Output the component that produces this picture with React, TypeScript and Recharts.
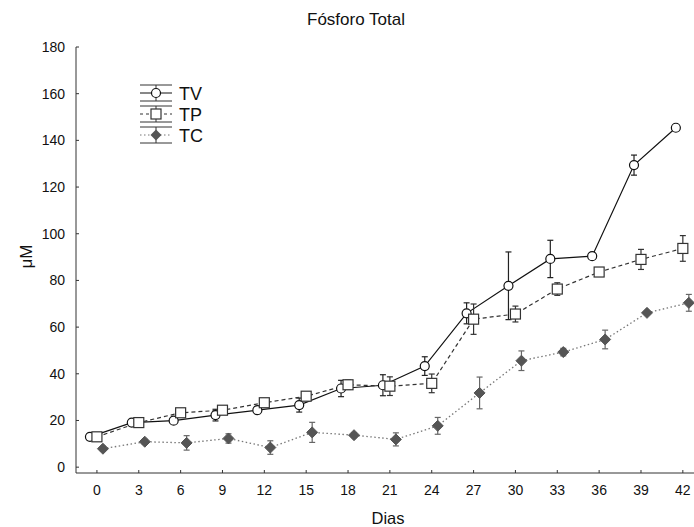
import React from 'react';
import { LineChart, Line, XAxis, YAxis, ErrorBar } from 'recharts';

const days = [0, 3, 6, 9, 12, 15, 18, 21, 24, 27, 30, 33, 36, 39, 42];
const dayTicks = [0, 3, 6, 9, 12, 15, 18, 21, 24, 27, 30, 33, 36, 39, 42];
const yTicks = [0, 20, 40, 60, 80, 100, 120, 140, 160, 180];

const tv = [13, 19.1, 19.9, 22.3, 24.4, 26.6, 33.7, 35.1, 43.3, 65.9, 77.7, 89.2, 90.4, 129.4, 145.4];
const tvErr = [0.5, 0.5, 1, 2.5, 1.5, 3, 3.5, 4.5, 4, 4.5, 14.5, 8, 0.5, 4.3, 0.5];
const tp = [13, 19.1, 23.3, 24.4, 27.6, 30.4, 35.3, 34.7, 35.9, 63.4, 65.6, 76.3, 83.6, 89, 93.7];
const tpErr = [0.5, 0.5, 1, 1, 1, 1, 2, 4, 4, 6.5, 3.4, 2.7, 1, 4.3, 5.5];
const tc = [7.9, 10.9, 10.4, 12.3, 8.4, 14.9, 13.7, 11.9, 17.7, 31.8, 45.6, 49.3, 54.7, 66.1, 70.4];
const tcErr = [1, 1, 3.1, 2, 2.9, 4.3, 1, 2.8, 3.6, 6.8, 4.2, 1.6, 4, 0.5, 3.6];

// small horizontal dodge so the three groups don't sit on top of each other
const tvShift = -0.5;
const tcShift = 0.43;

const tvData = days.map((d, i) => ({ x: d + tvShift, y: tv[i], err: tvErr[i] }));
const tpData = days.map((d, i) => ({ x: d, y: tp[i], err: tpErr[i] }));
const tcData = days.map((d, i) => ({ x: d + tcShift, y: tc[i], err: tcErr[i] }));

const font = '"Liberation Sans", Arial, sans-serif';

const circleDot = (p: any) => (
  <circle key={`tv-${p.index}`} cx={p.cx} cy={p.cy} r={4.5} fill="#fff" stroke="#111" strokeWidth={1.2} />
);
const squareDot = (p: any) => (
  <rect key={`tp-${p.index}`} x={p.cx - 5} y={p.cy - 5} width={10} height={10} fill="#fff" stroke="#333" strokeWidth={1.2} />
);
const diamondDot = (p: any) => (
  <path
    key={`tc-${p.index}`}
    d={`M${p.cx},${p.cy - 5.5} L${p.cx + 5.5},${p.cy} L${p.cx},${p.cy + 5.5} L${p.cx - 5.5},${p.cy} Z`}
    fill="#555"
    stroke="#555"
  />
);

function LegendBox() {
  const rows = [
    { name: 'TV', dash: undefined, color: '#111', kind: 'circle' },
    { name: 'TP', dash: '3 3', color: '#333', kind: 'square' },
    { name: 'TC', dash: '1.5 2.5', color: '#777', kind: 'diamond' },
  ];
  return (
    <svg width={120} height={80} style={{ position: 'absolute', left: 132, top: 78 }}>
      {rows.map((r, i) => {
        const cy = 15 + i * 21;
        const cx = 24;
        return (
          <g key={r.name}>
            <line x1={8} x2={40} y1={cy - 8} y2={cy - 8} stroke="#333" />
            <line x1={8} x2={40} y1={cy + 8} y2={cy + 8} stroke="#333" />
            <line x1={cx} x2={cx} y1={cy - 8} y2={cy + 8} stroke="#333" />
            <line x1={8} x2={40} y1={cy} y2={cy} stroke={r.color} strokeDasharray={r.dash} />
            {r.kind === 'circle' && <circle cx={cx} cy={cy} r={4.5} fill="#fff" stroke="#111" strokeWidth={1.2} />}
            {r.kind === 'square' && <rect x={cx - 5} y={cy - 5} width={10} height={10} fill="#fff" stroke="#333" strokeWidth={1.2} />}
            {r.kind === 'diamond' && (
              <path d={`M${cx},${cy - 5.5} L${cx + 5.5},${cy} L${cx},${cy + 5.5} L${cx - 5.5},${cy} Z`} fill="#555" />
            )}
            <text x={47} y={cy + 6.5} fontSize={18} fontFamily={font} fill="#111">
              {r.name}
            </text>
          </g>
        );
      })}
    </svg>
  );
}

export default function App() {
  return (
    <div style={{ position: 'absolute', left: 0, top: 0, width: 694, height: 527, background: '#fff', fontFamily: font }}>
      <LineChart width={694} height={527} data={tpData} margin={{ top: 47, right: 0, left: 0, bottom: 0 }}>
        <XAxis
          dataKey="x"
          type="number"
          domain={[-1.5, 42.8]}
          allowDataOverflow
          ticks={dayTicks}
          height={54}
          tickSize={-3}
          tickMargin={15}
          axisLine={{ stroke: '#333' }}
          tickLine={{ stroke: '#333' }}
          tick={{ fill: '#111', fontSize: 14, fontFamily: font }}
          label={{ value: 'Dias', position: 'insideBottom', offset: 3, fill: '#111', fontSize: 16.5, fontFamily: font, dx: 3 }}
        />
        <YAxis
          type="number"
          domain={[-2.5, 180]}
          allowDataOverflow
          ticks={yTicks}
          width={76}
          tickSize={-3}
          tickMargin={14}
          axisLine={{ stroke: '#333' }}
          tickLine={{ stroke: '#333' }}
          tick={{ fill: '#111', fontSize: 14, fontFamily: font }}
        />
        <Line
          data={tcData}
          dataKey="y"
          type="linear"
          stroke="#777"
          strokeWidth={1.3}
          strokeDasharray="1.5 2.5"
          dot={diamondDot}
          activeDot={false}
          isAnimationActive={false}
        >
          <ErrorBar dataKey="err" direction="y" width={3} stroke="#666" strokeWidth={1.2} />
        </Line>
        <Line
          data={tvData}
          dataKey="y"
          type="linear"
          stroke="#111"
          strokeWidth={1.2}
          dot={circleDot}
          activeDot={false}
          isAnimationActive={false}
        >
          <ErrorBar dataKey="err" direction="y" width={3} stroke="#222" strokeWidth={1.2} />
        </Line>
        <Line
          data={tpData}
          dataKey="y"
          type="linear"
          stroke="#333"
          strokeWidth={1.2}
          strokeDasharray="4 3"
          dot={squareDot}
          activeDot={false}
          isAnimationActive={false}
        >
          <ErrorBar dataKey="err" direction="y" width={3} stroke="#333" strokeWidth={1.2} />
        </Line>
      </LineChart>
      <svg width={694} height={527} style={{ position: 'absolute', left: 0, top: 0, pointerEvents: 'none' }}>
        <text x={356} y={24.5} textAnchor="middle" fontSize={17} fontFamily={font} fill="#111">
          Fósforo Total
        </text>
        <text
          x={26}
          y={256.5}
          textAnchor="middle"
          dominantBaseline="central"
          transform="rotate(-90 26 256.5)"
          fontSize={17}
          fontFamily={font}
          fill="#111"
        >
          μM
        </text>
      </svg>
      <LegendBox />
    </div>
  );
}
